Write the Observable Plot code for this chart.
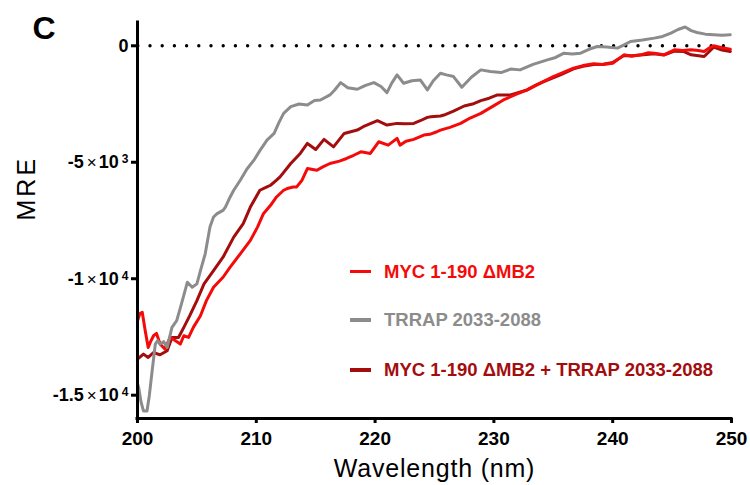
<!DOCTYPE html>
<html>
<head>
<meta charset="utf-8">
<script src="https://cdn.jsdelivr.net/npm/d3@7"></script>
<script src="https://cdn.jsdelivr.net/npm/@observablehq/plot@0.6"></script>
<style>
  body { margin: 0; background: #fff; }
  #wrap { position: relative; width: 750px; height: 485px; font-family: "Liberation Sans", Arial, sans-serif; }
  .leg { position: absolute; left: 350px; display: flex; align-items: center; height: 20px; font-size: 18.5px; font-weight: bold; white-space: nowrap; }
  .leg span.sw { display: inline-block; width: 21px; height: 3.5px; margin-right: 13px; }
</style>
</head>
<body>
<div id="wrap"></div>
<script>
// ---- data ----
const seriesNames = ["MYC 1-190 \u0394MB2", "TRRAP 2033-2088", "MYC 1-190 \u0394MB2 + TRRAP 2033-2088"];
const seriesColors = ["#f50a0a", "#8c8c8c", "#a30d0d"];

const mycX = [200.0,200.2,200.4,200.65,200.9,201.1,201.35,201.6,201.9,202.3,202.75,203.2,203.6,203.9,204.3,204.7,205.3,205.8,206.4,207.2,207.8,208.65,209.5,210.1,210.6,211.2,211.7,212.3,212.6,213.1,213.4,213.85,214.3,215.1,215.6,216.2,217.0,217.6,218.2,218.8,219.6,220.3,221.1,221.85,222.1,222.6,223.25,224.1,224.6,225.2,225.5,226.3,227.2,228.0,228.9,229.9,230.8,231.8,232.8,233.9,235.0,235.8,236.7,237.5,238.4,239.2,240.0,240.95,241.6,242.35,243.0,243.5,244.3,245.2,245.9,246.6,247.2,247.7,248.1,248.5,249.2,249.9];
const mycY = [-11801,-11500,-11443,-12232,-12950,-12700,-12447,-12347,-12805,-13020,-12520,-12663,-12805,-12447,-12520,-12089,-11586,-10940,-10367,-9936,-9505,-8929,-8355,-7783,-7206,-6848,-6490,-6202,-6129,-6059,-6059,-5771,-5269,-5341,-5200,-5052,-4950,-4837,-4700,-4551,-4621,-4121,-4264,-3975,-4264,-4100,-4019,-3833,-3800,-3690,-3618,-3500,-3331,-3100,-2900,-2600,-2326,-2100,-1895,-1600,-1321,-1150,-962,-850,-775,-800,-746,-388,-450,-388,-300,-316,-388,-172,-200,-172,-200,-244,-100,0,-80,-144];

const trrapX = [200.0,200.1,200.3,200.5,200.8,201.0,201.2,201.5,201.7,201.9,202.2,202.5,202.9,203.3,203.7,204.2,204.6,205.0,205.3,205.7,206.1,206.4,206.7,207.2,207.4,207.8,208.1,208.65,209.2,209.8,210.3,210.9,211.5,211.9,212.3,212.9,213.6,214.3,214.9,215.4,216.2,216.6,217.1,217.7,218.5,219.2,219.9,220.5,221.0,221.4,221.85,222.4,223.1,223.8,224.4,224.9,225.5,226.0,226.6,227.3,228.1,228.9,229.7,230.6,231.4,232.2,233.3,234.5,235.2,235.9,236.6,237.3,238.0,238.7,239.5,240.4,241.0,241.5,242.5,243.5,244.2,244.9,245.5,246.1,246.6,247.1,247.8,248.5,249.2,249.9];
const trrapY = [-14500,-14674,-15300,-15677,-15677,-15000,-14097,-12805,-12650,-12805,-12700,-12950,-12089,-11801,-11083,-10150,-10367,-10221,-9648,-8929,-7783,-7350,-7206,-7063,-6922,-6490,-6202,-5771,-5300,-4910,-4500,-4049,-3762,-3300,-2900,-2613,-2500,-2541,-2350,-2326,-2110,-1900,-1580,-1800,-1866,-1700,-1580,-1750,-2010,-1600,-1250,-1608,-1500,-1464,-1895,-1500,-1177,-1250,-1321,-1780,-1350,-1034,-1100,-1148,-1000,-1034,-800,-603,-500,-316,-350,-316,-150,-29,-50,-100,50,185,250,330,400,547,700,805,650,573,500,474,450,474];

const comboX = [200.0,200.5,200.9,201.35,201.9,202.5,202.9,203.45,203.9,204.4,205.0,205.6,206.4,207.2,208.1,208.9,209.5,210.3,210.9,211.2,211.7,212.0,212.9,213.7,214.3,215.0,215.7,216.5,217.4,218.5,219.0,220.2,221.0,221.85,222.5,223.25,223.8,224.4,224.7,225.5,225.8,226.6,227.5,228.2,228.9,229.6,230.3,231.4,232.1,232.8,233.5,234.2,235.6,236.7,237.5,238.4,239.2,240.0,240.95,241.6,242.35,243.5,244.3,245.2,246.0,246.6,247.7,248.5,249.2,249.9];
const comboY = [-13451,-13236,-13380,-13166,-13266,-13093,-12520,-12520,-12089,-11586,-10940,-10221,-9648,-9075,-8213,-7636,-6922,-6202,-6059,-5987,-5771,-5629,-5052,-4621,-4191,-4449,-4019,-4337,-3762,-3618,-3475,-3217,-3402,-3331,-3350,-3331,-3217,-3072,-3043,-3015,-2972,-2800,-2584,-2500,-2355,-2250,-2110,-2110,-2000,-1895,-1700,-1537,-1250,-990,-880,-800,-790,-720,-420,-430,-400,-340,-400,-230,-250,-388,-460,-57,-180,-244];

const xTicks = [200, 210, 220, 230, 240, 250];
const yTicks = [0, -5000, -10000, -15000];
const yTickLabels = ["0", "-5\u00d710^3", "-1\u00d710^4", "-1.5\u00d710^4"];

// ---- build rows ----
const toRows = (xs, ys, name) => xs.map((x, i) => ({wl: x, mre: ys[i], series: name}));
const mycRows = toRows(mycX, mycY, seriesNames[0]);
const trrapRows = toRows(trrapX, trrapY, seriesNames[1]);
const comboRows = toRows(comboX, comboY, seriesNames[2]);

const font = "'Liberation Sans', Arial, sans-serif";

const chart = Plot.plot({
  width: 750,
  height: 485,
  marginLeft: 137,
  marginRight: 19,
  marginTop: 22,
  marginBottom: 67,
  style: {fontFamily: font, background: "white", color: "black"},
  x: {domain: [200, 250]},
  y: {domain: [-16000, 1000]},
  marks: [
    Plot.ruleY([0], {stroke: "black", strokeWidth: 3.4, strokeDasharray: "0,12.2", strokeLinecap: "round", strokeDashoffset: -0.8}),
    Plot.line(comboRows, {x: "wl", y: "mre", stroke: seriesColors[2], strokeWidth: 3, strokeLinejoin: "round"}),
    Plot.line(mycRows, {x: "wl", y: "mre", stroke: seriesColors[0], strokeWidth: 3, strokeLinejoin: "round"}),
    Plot.line(trrapRows, {x: "wl", y: "mre", stroke: seriesColors[1], strokeWidth: 3, strokeLinejoin: "round"}),
    Plot.ruleX([200], {stroke: "black", strokeWidth: 3, strokeLinecap: "square"}),
    Plot.ruleY([-16000], {stroke: "black", strokeWidth: 3, strokeLinecap: "square"}),
    Plot.axisX({ticks: xTicks, tickFormat: d => String(d), tickSize: 5, tickPadding: 8, strokeWidth: 3, fontSize: 19, fontWeight: "bold", label: null}),
    Plot.axisY({ticks: yTicks, tickFormat: d => yTickLabels[yTicks.indexOf(d)], tickSize: 6, tickPadding: 3, strokeWidth: 3, fontSize: 18, fontWeight: "bold", label: null}),
    Plot.text(["Wavelength (nm)"], {frameAnchor: "bottom", dy: 50, fontSize: 25, lineAnchor: "middle", fill: "black"}),
    Plot.text(["MRE"], {frameAnchor: "left", dx: -111, rotate: -90, fontSize: 25, lineAnchor: "middle", fill: "black"}),
    Plot.text(["C"], {frameAnchor: "top-left", dx: -105, dy: 6, fontSize: 32, fontWeight: "bold", lineAnchor: "middle", fill: "black"})
  ]
});

const wrap = document.getElementById("wrap");
wrap.appendChild(chart);

// letter spacing on the axis titles
d3.select(chart).selectAll("text").filter(function() { return this.textContent === "Wavelength (nm)"; }).attr("letter-spacing", "0.8");
d3.select(chart).selectAll("text").filter(function() { return this.textContent === "MRE"; }).attr("letter-spacing", "3");

// superscript formatting of y tick labels
d3.select(chart).selectAll('[aria-label="y-axis tick label"] text').each(function() {
  const t = this.textContent;
  const m = t.match(/^(.*)\u00d710\^(\d)$/);
  if (!m) return;
  const el = d3.select(this);
  el.text(null);
  el.append("tspan").text(m[1]);
  el.append("tspan").attr("dx", 3).attr("font-weight", "normal").attr("font-size", 17).text("\u00d7");
  el.append("tspan").attr("dx", 2).text("10");
  el.append("tspan").attr("dx", 3).attr("dy", -5).attr("font-size", 12).text(m[2]);
});

// legend
const legendRowsY = [261.5, 310, 360];
seriesNames.forEach((name, i) => {
  const row = document.createElement("div");
  row.className = "leg";
  row.style.top = legendRowsY[i] + "px";
  row.style.color = seriesColors[i];
  const sw = document.createElement("span");
  sw.className = "sw";
  sw.style.background = seriesColors[i];
  row.appendChild(sw);
  const tx = document.createElement("span");
  tx.textContent = name;
  row.appendChild(tx);
  wrap.appendChild(row);
});
</script>
</body>
</html>
